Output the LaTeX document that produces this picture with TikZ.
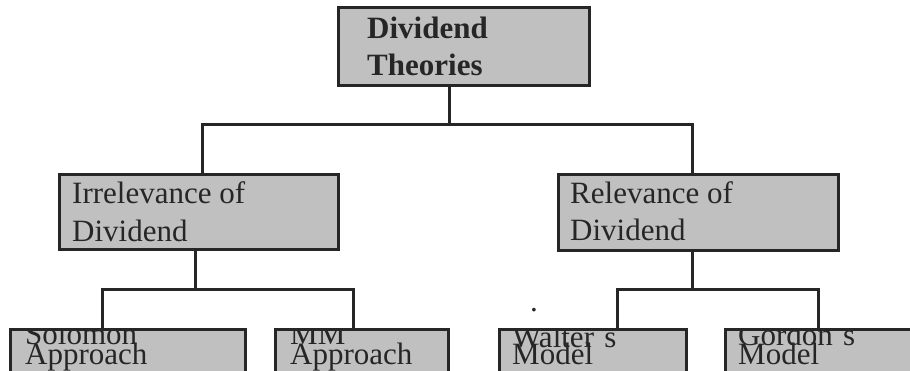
\documentclass[tikz,border=0pt]{standalone}
\usepackage{fontspec}
\setmainfont{Liberation Serif}
\definecolor{boxfill}{HTML}{C0C0C0}
\definecolor{ink}{HTML}{262626}
\tikzset{
  box/.style={draw=ink, fill=boxfill, line width=3pt, rectangle, inner sep=0pt},
  conn/.style={draw=ink, line width=3pt},
  txt/.style={anchor=base west, inner sep=0pt, text=ink, font=\fontsize{31}{38}\selectfont},
  btxt/.style={txt, font=\fontsize{31}{38}\selectfont\bfseries},
}
\begin{document}
\begin{tikzpicture}[x=1pt,y=-1pt]
\useasboundingbox (0,0) rectangle (910,370);
% boxes
\node[box, minimum width=251pt, minimum height=78pt] (top) at (463.5,46) {};
\node[box, minimum width=279pt, minimum height=75pt] (irr) at (198.5,211.5) {};
\node[box, minimum width=280pt, minimum height=76pt] (rel) at (698,212) {};
\node[box, minimum width=235pt, minimum height=43pt] (sol) at (127.5,350.5) {};
\node[box, minimum width=173pt, minimum height=43pt] (mm) at (361.5,350.5) {};
\node[box, minimum width=187pt, minimum height=43pt] (wal) at (592.5,350.5) {};
\node[box, minimum width=190pt, minimum height=43pt] (gor) at (820,350.5) {};
% texts
\node[btxt] (t1) at (367,38) {Dividend};
\node[btxt] (t2) at (367,75) {Theories};
\node[txt] (i1) at (72,203) {Irrelevance of};
\node[txt] (i2) at (72,241) {Dividend};
\node[txt] (r1) at (570,203) {Relevance of};
\node[txt] (r2) at (570,240) {Dividend};
\begin{scope}
\clip ([yshift=-1.5pt]sol.north west) rectangle (sol.south east);
\node[txt] (s1) at (25,344) {Solomon};
\node[txt] (s2) at (25,364) {Approach};
\end{scope}
\begin{scope}
\clip ([yshift=-1.5pt]mm.north west) rectangle (mm.south east);
\node[txt] (m1) at (290,344) {MM};
\node[txt] (m2) at (290,364) {Approach};
\end{scope}
\begin{scope}
\clip ([yshift=-1.5pt]wal.north west) rectangle (wal.south east);
\node[txt] (w1) at (512,347) {Walter´s};
\node[txt] (w2) at (512,364) {Model};
\end{scope}
\begin{scope}
\clip ([yshift=-1.5pt]gor.north west) rectangle (gor.south east);
\node[txt] (g1) at (738,345) {Gordon´s};
\node[txt] (g2) at (738,364) {Model};
\end{scope}
\node[txt] (dot) at (530,311) {.};
% connectors
\coordinate (tj) at ([xshift=-14.5pt]top.south |- 0,124);
\draw[conn] ([xshift=-14.5pt]top.south) -- (tj);
\draw[conn] ([xshift=3.5pt]irr.north) |- (tj) -| ([xshift=-6pt]rel.north);
\coordinate (ij) at ([xshift=-3.5pt]irr.south |- 0,289);
\draw[conn] ([xshift=-3.5pt]irr.south) -- (ij);
\draw[conn] ([xshift=-25.5pt]sol.north) |- (ij) -| ([xshift=-8.5pt]mm.north);
\coordinate (rj) at ([xshift=-6pt]rel.south |- 0,289);
\draw[conn] ([xshift=-6pt]rel.south) -- (rj);
\draw[conn] ([xshift=24.5pt]wal.north) |- (rj) -| ([xshift=-2pt]gor.north);
\end{tikzpicture}
\end{document}
